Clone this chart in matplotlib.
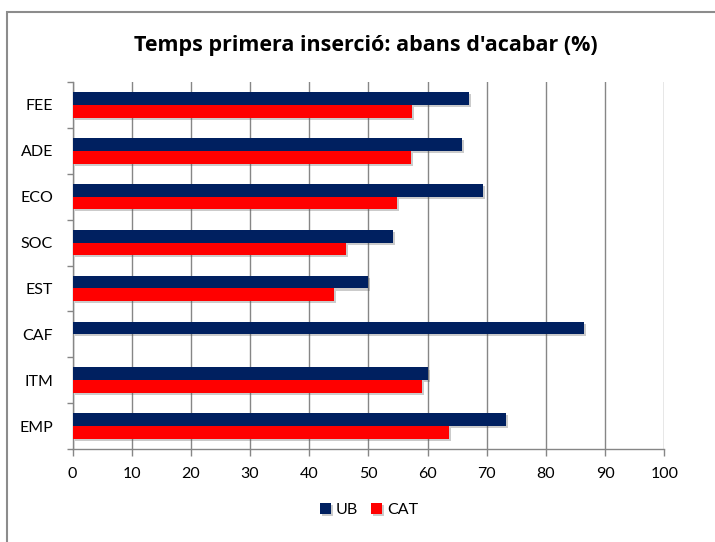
import matplotlib
matplotlib.use("Agg")
import matplotlib.pyplot as plt
import matplotlib.patheffects as pe
from matplotlib.patches import Rectangle
import numpy as np

plt.rcParams['font.family'] = ['Lato', 'DejaVu Sans']

# data, top to bottom as in the chart
categories = ['FEE', 'ADE', 'ECO', 'SOC', 'EST', 'CAF', 'ITM', 'EMP']
ub = [67.0, 65.8, 69.4, 54.2, 50.0, 86.4, 60.1, 73.2]
cat = [57.4, 57.2, 54.9, 46.2, 44.2, 0.0, 59.0, 63.6]
xticks = [0, 10, 20, 30, 40, 50, 60, 70, 80, 90, 100]

navy = '#002060'
red = '#ff0000'
axcol = '#868686'

fig = plt.figure(figsize=(7.15, 5.42), dpi=100)

# outer chart frame (cropped on the right and bottom)
fig.patches.append(Rectangle((7 / 715, -0.1), 1.2, 1 - 12 / 542 + 0.1,
                             transform=fig.transFigure, fill=False,
                             edgecolor='#8c8c8c', linewidth=1.5))

ax = fig.add_axes([72.5 / 715, 1 - 449 / 542, (664.3 - 72.5) / 715, (449 - 82) / 542])

n = len(categories)
y = np.arange(n)[::-1]
h = 0.277
shadow = [pe.SimplePatchShadow(offset=(1.5, -1.5), shadow_rgbFace='#555555', alpha=0.3), pe.Normal()]
b1 = ax.barh(y + h / 2, ub, height=h, color=navy, label='UB', zorder=3)
b2 = ax.barh(y - h / 2, cat, height=h, color=red, label='CAT', zorder=3)
for b in list(b1) + list(b2):
    if b.get_width() > 0:
        b.set_path_effects(shadow)

ax.set_xlim(0, 100)
ax.set_ylim(-0.5, n - 0.5)
ax.set_xticks(xticks)
ax.set_xticklabels([str(v) for v in xticks], fontsize=11.5)
ax.set_yticks(y)
ax.set_yticklabels(categories, fontsize=11.5)
ax.set_yticks(np.arange(n + 1) - 0.5, minor=True)
ax.tick_params(axis='y', which='major', length=0, pad=14)
ax.tick_params(axis='y', which='minor', length=4, color=axcol, width=1)
ax.tick_params(axis='x', length=5, color=axcol, width=1, pad=8)

ax.grid(axis='x', color=axcol, linewidth=1, zorder=0)
ax.set_axisbelow(True)
for s in ['top', 'right']:
    ax.spines[s].set_visible(False)
for s in ['left', 'bottom']:
    ax.spines[s].set_color(axcol)
    ax.spines[s].set_linewidth(1)

fig.text(366 / 715, 1 - 46 / 542, "Temps primera inserció: abans d'acabar (%)",
         ha='center', va='center', fontsize=15.5, fontweight='bold',
         family=['Open Sans', 'DejaVu Sans'])

fig.legend(handles=[b1, b2], labels=['UB', 'CAT'], loc='center',
           bbox_to_anchor=(369 / 715, 1 - 510 / 542), ncol=2, frameon=False,
           fontsize=11.5, handlelength=0.7, handleheight=0.7,
           handletextpad=0.3, columnspacing=0.8)

fig.savefig('out.png', dpi=100)
